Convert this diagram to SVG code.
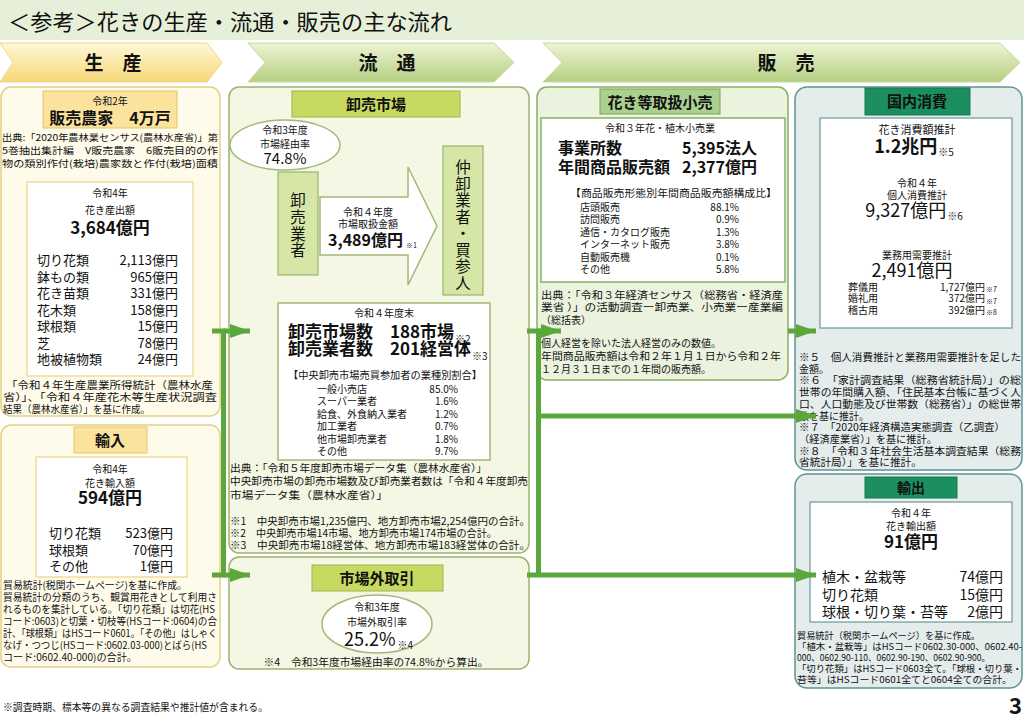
<svg xmlns="http://www.w3.org/2000/svg" width="1024" height="725" viewBox="0 0 1024 725">
<defs>
<linearGradient id="gy" x1="0" y1="0" x2="0" y2="1"><stop offset="0" stop-color="#fff8d8"/><stop offset="1" stop-color="#f6d878"/></linearGradient>
<linearGradient id="gg" x1="0" y1="0" x2="0" y2="1"><stop offset="0" stop-color="#eef4d4"/><stop offset="1" stop-color="#b4cf82"/></linearGradient>
<marker id="ah" markerUnits="userSpaceOnUse" markerWidth="20" markerHeight="14" refX="20" refY="7" orient="auto"><path d="M0,0 L20,7 L0,14 z" fill="#5aa83c"/></marker>
<style>
text{font-family:"Noto Sans CJK JP","Noto Sans",sans-serif;fill:#111}
.c{text-anchor:middle}.r{text-anchor:end}.b{font-weight:bold}
.s7{font-size:7px}.s9{font-size:9.5px}.s10{font-size:10px}.s11{font-size:11px}.s13{font-size:13px}.s14{font-size:14px}.s15{font-size:15px}.s16{font-size:16px}.s17{font-size:17px}.s18{font-size:18px}.s19{font-size:19px}
.n{font-weight:normal}
.pY{fill:#fffbea;stroke:#e5cf84;stroke-width:1.5}
.hY{fill:#fbe39e;stroke:#e3c56c}
.wY{fill:#fff;stroke:#f0dc9c;stroke-width:1.5}
.pG{fill:#f3f7e3;stroke:#9cb26e;stroke-width:1.5}
.hG{fill:#c7d960;stroke:#9fb34f}
.bG{fill:#d6e6a6;stroke:#9cb26e;stroke-width:1.2}
.wG{fill:#fff;stroke:#a3b877;stroke-width:1.5}
.pR{fill:#ebf3df;stroke:#86b062;stroke-width:1.5}
.hR{fill:#a9d08e;stroke:#75a552}
.wR{fill:#fff;stroke:#87b06a;stroke-width:1.5}
.pT{fill:#e4ecec;stroke:#5f9292;stroke-width:1.5}
.hT{fill:#1b8f5f;stroke:#177a52}
.wT{fill:#fff;stroke:#6a9a9a;stroke-width:1.2}
.ln{fill:none;stroke:#5aa83c;stroke-width:5}
</style>
</defs>
<rect x="0" y="0" width="1024" height="725" fill="#fff"/>
<g id="title">
<rect x="0" y="0" width="1024" height="40" fill="#e6f0d8"/>
<text x="8" y="30" style="font-size:22px" textLength="444" lengthAdjust="spacingAndGlyphs">＜参考＞花きの生産・流通・販売の主な流れ</text>
</g>
<g id="bands">
<polygon points="0,43 207,43 222,62.5 207,82 0,82 13,62.5" fill="url(#gy)" stroke="#eed58a"/>
<text x="113" y="70" class="c b s19">生　産</text>
<polygon points="248,43 494,43 514,62.5 494,82 248,82 265,62.5" fill="url(#gg)" stroke="#c7d8a0"/>
<text x="387" y="70" class="c b s19">流　通</text>
<polygon points="543,43 1000,43 1020,62.5 1000,82 543,82 562,62.5" fill="url(#gg)" stroke="#c7d8a0"/>
<text x="786" y="70" class="c b s19">販　売</text>
</g>
<g id="production">
<rect x="1" y="87" width="219" height="329" rx="10" class="pY"/>
<rect x="43" y="91" width="134" height="37" class="hY"/>
<text x="110" y="104.5" class="c s10">令和2年</text>
<text x="110" y="124" class="c b s16">販売農家　4万戸</text>
<text x="2" y="141" class="s9" textLength="216" lengthAdjust="spacingAndGlyphs">出典:「2020年農林業センサス(農林水産省)」第</text>
<text x="2" y="154" class="s9" textLength="216" lengthAdjust="spacingAndGlyphs">5巻抽出集計編　V販売農家　6販売目的の作</text>
<text x="2" y="167" class="s9" textLength="216" lengthAdjust="spacingAndGlyphs">物の類別作付(栽培)農家数と作付(栽培)面積</text>
<rect x="27" y="182" width="166" height="194" class="wY"/>
<text x="110" y="197" class="c s10">令和4年</text>
<text x="110" y="214" class="c s10">花き産出額</text>
<text x="110" y="234" class="c b s17">3,684億円</text>
<text x="37" y="265" class="s13">切り花類</text><text x="178" y="265" class="r s13">2,113億円</text>
<text x="37" y="281.5" class="s13">鉢もの類</text><text x="178" y="281.5" class="r s13">965億円</text>
<text x="37" y="298" class="s13">花き苗類</text><text x="178" y="298" class="r s13">331億円</text>
<text x="37" y="314.5" class="s13">花木類</text><text x="178" y="314.5" class="r s13">158億円</text>
<text x="37" y="331" class="s13">球根類</text><text x="178" y="331" class="r s13">15億円</text>
<text x="37" y="347.5" class="s13">芝</text><text x="178" y="347.5" class="r s13">78億円</text>
<text x="37" y="364" class="s13">地被植物類</text><text x="178" y="364" class="r s13">24億円</text>
<text x="6" y="388.5" class="s10" textLength="207" lengthAdjust="spacingAndGlyphs">「令和４年生産農業所得統計（農林水産</text>
<text x="3" y="400.5" class="s10" textLength="214" lengthAdjust="spacingAndGlyphs">省）」、「令和４年産花木等生産状況調査</text>
<text x="3" y="412.5" class="s10" textLength="147" lengthAdjust="spacingAndGlyphs">結果（農林水産省）」を基に作成。</text>
</g>
<g id="import">
<rect x="1" y="425" width="219" height="242" rx="10" class="pY"/>
<rect x="74" y="427" width="73" height="26" class="hY"/>
<text x="110" y="446" class="c b s15">輸入</text>
<rect x="36" y="457" width="151" height="120" class="wY"/>
<text x="110" y="472.5" class="c s10">令和4年</text>
<text x="110" y="486.5" class="c s10">花き輸入額</text>
<text x="110" y="504" class="c b s17">594億円</text>
<text x="49" y="537.5" class="s13">切り花類</text><text x="173" y="537.5" class="r s13">523億円</text>
<text x="49" y="554.5" class="s13">球根類</text><text x="173" y="554.5" class="r s13">70億円</text>
<text x="49" y="570.5" class="s13">その他</text><text x="173" y="570.5" class="r s13">1億円</text>
<text x="3" y="589" class="s10" textLength="184" lengthAdjust="spacingAndGlyphs">貿易統計(税関ホームページ)を基に作成。</text>
<text x="3" y="601" class="s10" textLength="214" lengthAdjust="spacingAndGlyphs">貿易統計の分類のうち、観賞用花きとして利用さ</text>
<text x="3" y="613" class="s10" textLength="212" lengthAdjust="spacingAndGlyphs">れるものを集計している。「切り花類」は切花(HS</text>
<text x="3" y="625" class="s10" textLength="214" lengthAdjust="spacingAndGlyphs">コード:0603)と切葉・切枝等(HSコード:0604)の合</text>
<text x="3" y="637" class="s10" textLength="214" lengthAdjust="spacingAndGlyphs">計、「球根類」はHSコード0601。「その他」はしゃく</text>
<text x="3" y="649" class="s10" textLength="204" lengthAdjust="spacingAndGlyphs">なげ・つつじ(HSコード:0602.03-000)とばら(HS</text>
<text x="3" y="661" class="s10" textLength="134" lengthAdjust="spacingAndGlyphs">コード:0602.40-000)の合計。</text>
</g>
<g id="wholesale">
<rect x="229" y="87" width="300" height="466" rx="10" class="pG"/>
<rect x="292" y="91" width="168" height="26" class="hG"/>
<text x="376" y="109.5" class="c b s15">卸売市場</text>
<ellipse cx="285" cy="145" rx="55" ry="25" fill="#fff" stroke="#a3b877" stroke-width="1.5"/>
<text x="285" y="133.5" class="c s10">令和3年度</text>
<text x="285" y="148" class="c s10">市場経由率</text>
<text x="285" y="164" class="c s15">74.8%</text>
<rect x="278" y="172" width="40" height="103" class="bG"/>
<text class="c" style="font-size:15.5px"><tspan x="298" y="206">卸</tspan><tspan x="298" y="223">売</tspan><tspan x="298" y="239.5">業</tspan><tspan x="298" y="256">者</tspan></text>
<polygon points="320,197 408,197 408,167 437,226 408,285 408,255 320,255" fill="#fff" stroke="#a3b877" stroke-width="1.5"/>
<text x="368" y="216" class="c s10">令和４年度</text>
<text x="368" y="228" class="c s10">市場取扱金額</text>
<text x="328" y="246" class="b s16">3,489億円<tspan class="s7 n" dx="3" dy="2">※1</tspan></text>
<rect x="443" y="146" width="40" height="149" class="bG"/>
<text class="c" style="font-size:15.5px"><tspan x="463" y="173">仲</tspan><tspan x="463" y="189.5">卸</tspan><tspan x="463" y="206">業</tspan><tspan x="463" y="222.5">者</tspan><tspan x="463" y="239">・</tspan><tspan x="463" y="255.5">買</tspan><tspan x="463" y="272">参</tspan><tspan x="463" y="288.5">人</tspan></text>
<rect x="278" y="303" width="212" height="157" class="wG"/>
<text x="384" y="316.5" class="c s10">令和４年度末</text>
<text x="288" y="338" class="b s17">卸売市場数　188市場<tspan class="s10 n" dx="1" dy="5">※2</tspan></text>
<text x="288" y="355" class="b s17">卸売業者数　201経営体<tspan class="s10 n" dx="1" dy="5">※3</tspan></text>
<text x="288" y="378.5" class="s10" textLength="194" lengthAdjust="spacingAndGlyphs">【中央卸売市場売買参加者の業種別割合】</text>
<text x="317" y="392.5" class="s10">一般小売店</text><text x="458" y="392.5" class="r s10">85.0%</text>
<text x="317" y="405" class="s10">スーパー業者</text><text x="458" y="405" class="r s10">1.6%</text>
<text x="317" y="417.5" class="s10">給食、外食納入業者</text><text x="458" y="417.5" class="r s10">1.2%</text>
<text x="317" y="430" class="s10">加工業者</text><text x="458" y="430" class="r s10">0.7%</text>
<text x="317" y="442.5" class="s10">他市場卸売業者</text><text x="458" y="442.5" class="r s10">1.8%</text>
<text x="317" y="455" class="s10">その他</text><text x="458" y="455" class="r s10">9.7%</text>
<text x="230" y="471.5" class="s10" textLength="257" lengthAdjust="spacingAndGlyphs">出典：「令和５年度卸売市場データ集（農林水産省）」</text>
<text x="230" y="485" class="s10" textLength="298" lengthAdjust="spacingAndGlyphs">中央卸売市場の卸売市場数及び卸売業者数は「令和４年度卸売</text>
<text x="230" y="498.5" class="s10" textLength="158" lengthAdjust="spacingAndGlyphs">市場データ集（農林水産省）」</text>
<text x="230" y="524.5" class="s10" textLength="300" lengthAdjust="spacingAndGlyphs">※1　中央卸売市場1,235億円、地方卸売市場2,254億円の合計。</text>
<text x="230" y="536.5" class="s10" textLength="267" lengthAdjust="spacingAndGlyphs">※2　中央卸売市場14市場、地方卸売市場174市場の合計。</text>
<text x="230" y="548.5" class="s10" textLength="300" lengthAdjust="spacingAndGlyphs">※3　中央卸売市場18経営体、地方卸売市場183経営体の合計。</text>
</g>
<g id="offmarket">
<rect x="229" y="557" width="300" height="112" rx="10" class="pG"/>
<rect x="312" y="565" width="131" height="26" class="hG"/>
<text x="377" y="583.5" class="c b s15">市場外取引</text>
<ellipse cx="377" cy="624" rx="55" ry="29" fill="#fff" stroke="#a3b877" stroke-width="1.5"/>
<text x="377" y="610.5" class="c s10">令和3年度</text>
<text x="377" y="625.5" class="c s10">市場外取引率</text>
<text x="344" y="646" class="s18">25.2%<tspan class="s10" dx="2" dy="3">※4</tspan></text>
<text x="376" y="665.5" class="c s10" textLength="225" lengthAdjust="spacingAndGlyphs">※4　令和3年度市場経由率の74.8%から算出。</text>
</g>
<g id="retail">
<rect x="537" y="87" width="251" height="293" rx="10" class="pR"/>
<rect x="600" y="89" width="120" height="25" class="hR"/>
<text x="660" y="107.5" class="c b s15">花き等取扱小売</text>
<rect x="541" y="118" width="244" height="164" class="wR"/>
<text x="660" y="131.5" class="c s10">令和３年花・植木小売業</text>
<text x="558" y="153.5" class="b s16">事業所数</text><text x="757" y="153.5" class="r b s16">5,395法人</text>
<text x="558" y="172.5" class="b s16">年間商品販売額</text><text x="757" y="172.5" class="r b s16">2,377億円</text>
<text x="570" y="196.5" class="s10" textLength="207" lengthAdjust="spacingAndGlyphs">【商品販売形態別年間商品販売額構成比】</text>
<text x="580" y="210.5" class="s10">店頭販売</text><text x="739" y="210.5" class="r s10">88.1%</text>
<text x="580" y="223" class="s10">訪問販売</text><text x="739" y="223" class="r s10">0.9%</text>
<text x="580" y="235.5" class="s10">通信・カタログ販売</text><text x="739" y="235.5" class="r s10">1.3%</text>
<text x="580" y="248" class="s10">インターネット販売</text><text x="739" y="248" class="r s10">3.8%</text>
<text x="580" y="260.5" class="s10">自動販売機</text><text x="739" y="260.5" class="r s10">0.1%</text>
<text x="580" y="273" class="s10">その他</text><text x="739" y="273" class="r s10">5.8%</text>
<text x="541" y="298.5" class="s10" textLength="242" lengthAdjust="spacingAndGlyphs">出典：「令和３年経済センサス（総務省・経済産</text>
<text x="541" y="310.5" class="s10" textLength="242" lengthAdjust="spacingAndGlyphs">業省 ）」の活動調査ー卸売業、小売業ー産業編</text>
<text x="541" y="323.5" class="s10">（総括表）</text>
<text x="541" y="346.5" class="s10" textLength="180" lengthAdjust="spacingAndGlyphs">個人経営を除いた法人経営のみの数値。</text>
<text x="541" y="360" class="s10" textLength="240" lengthAdjust="spacingAndGlyphs">年間商品販売額は令和２年１月１日から令和２年</text>
<text x="541" y="372.5" class="s10" textLength="170" lengthAdjust="spacingAndGlyphs">１２月３１日までの１年間の販売額。</text>
</g>
<g id="domestic">
<rect x="795" y="87" width="227" height="383" rx="12" class="pT"/>
<rect x="865" y="88" width="105" height="27" class="hT"/>
<text x="917" y="107" class="c b s15">国内消費</text>
<rect x="820" y="118" width="192" height="210" class="wT"/>
<text x="917" y="134" class="c s11">花き消費額推計</text>
<text x="914" y="153" class="c b s18">1.2兆円<tspan class="s10 n" dx="1" dy="3">※5</tspan></text>
<text x="917" y="186.5" class="c s10">令和４年</text>
<text x="917" y="198.5" class="c s10">個人消費推計</text>
<text x="914" y="217" class="c s18">9,327億円<tspan class="s10" dx="1" dy="3">※6</tspan></text>
<text x="917" y="258.5" class="c s10">業務用需要推計</text>
<text x="912" y="277" class="c s18">2,491億円</text>
<text x="848" y="290.5" class="s10">葬儀用</text><text x="985" y="290.5" class="r s10">1,727億円</text><text x="986" y="292" class="s7">※7</text>
<text x="848" y="302" class="s10">婚礼用</text><text x="985" y="302" class="r s10">372億円</text><text x="986" y="303.5" class="s7">※7</text>
<text x="848" y="313.5" class="s10">稽古用</text><text x="985" y="313.5" class="r s10">392億円</text><text x="986" y="315" class="s7">※8</text>
<text x="799" y="361" class="s10" textLength="222" lengthAdjust="spacingAndGlyphs">※５　個人消費推計と業務用需要推計を足した</text>
<text x="799" y="372.7" class="s10">金額。</text>
<text x="799" y="384.4" class="s10" textLength="222" lengthAdjust="spacingAndGlyphs">※６　「家計調査結果（総務省統計局）」の総</text>
<text x="799" y="396.1" class="s10" textLength="222" lengthAdjust="spacingAndGlyphs">世帯の年間購入額、「住民基本台帳に基づく人</text>
<text x="799" y="407.8" class="s10" textLength="222" lengthAdjust="spacingAndGlyphs">口、人口動態及び世帯数（総務省）」の総世帯</text>
<text x="799" y="419.5" class="s10">数を基に推計。</text>
<text x="799" y="431.2" class="s10" textLength="206" lengthAdjust="spacingAndGlyphs">※７　「2020年経済構造実態調査（乙調査）</text>
<text x="799" y="442.9" class="s10" textLength="138" lengthAdjust="spacingAndGlyphs">（経済産業省）」を基に推計。</text>
<text x="799" y="454.6" class="s10" textLength="222" lengthAdjust="spacingAndGlyphs">※８　「令和３年社会生活基本調査結果（総務</text>
<text x="799" y="466.3" class="s10" textLength="123" lengthAdjust="spacingAndGlyphs">省統計局）」を基に推計。</text>
</g>
<g id="export">
<rect x="795" y="474" width="227" height="214" rx="12" class="pT"/>
<rect x="865" y="477" width="92" height="21" class="hT"/>
<text x="911" y="492.5" class="c b s14">輸出</text>
<rect x="810" y="502" width="202" height="120" class="wT"/>
<text x="911" y="516.5" class="c s10">令和４年</text>
<text x="911" y="529.5" class="c s10">花き輸出額</text>
<text x="911" y="548" class="c b s17">91億円</text>
<text x="822" y="582" class="s14">植木・盆栽等</text><text x="1003" y="582" class="r s14">74億円</text>
<text x="822" y="600" class="s14">切り花類</text><text x="1003" y="600" class="r s14">15億円</text>
<text x="822" y="617" class="s14">球根・切り葉・苔等</text><text x="1003" y="617" class="r s14">2億円</text>
<text x="797" y="638.5" class="s9" textLength="183" lengthAdjust="spacingAndGlyphs">貿易統計（税関ホームページ）を基に作成。</text>
<text x="797" y="649.5" class="s9" textLength="225" lengthAdjust="spacingAndGlyphs">「植木・盆栽等」はHSコード0602.30-000、0602.40-</text>
<text x="797" y="660.5" class="s9" textLength="193" lengthAdjust="spacingAndGlyphs">000、0602.90-110、0602.90-190、0602.90-900。</text>
<text x="797" y="671.5" class="s9" textLength="225" lengthAdjust="spacingAndGlyphs">「切り花類」はHSコード0603全て。「球根・切り葉・</text>
<text x="797" y="682.5" class="s9" textLength="215" lengthAdjust="spacingAndGlyphs">苔等」はHSコード0601全てと0604全ての合計。</text>
</g>
<g id="connectors">
<path class="ln" d="M212,331 H223.5 V575 H212"/>
<path class="ln" d="M223.5,331 H250" marker-end="url(#ah)"/>
<path class="ln" d="M223.5,575 H250" marker-end="url(#ah)"/>
<path class="ln" d="M527,331 H538.5 V575"/>
<path class="ln" d="M538.5,331 H561" marker-end="url(#ah)"/>
<path class="ln" d="M538.5,416 H816" marker-end="url(#ah)"/>
<path class="ln" d="M527,575 H816" marker-end="url(#ah)"/>
<path class="ln" d="M788,331 H816" marker-end="url(#ah)"/>
</g>
<g id="footer">
<text x="3" y="711" class="s10" textLength="265" lengthAdjust="spacingAndGlyphs">※調査時期、標本等の異なる調査結果や推計値が含まれる。</text>
<text x="1022" y="714" class="r b" style="font-size:22px">3</text>
</g>
</svg>
